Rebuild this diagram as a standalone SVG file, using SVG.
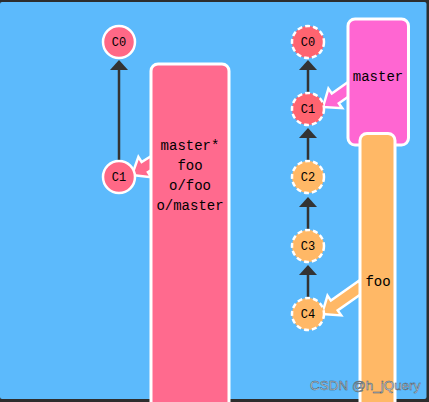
<svg xmlns="http://www.w3.org/2000/svg" width="429" height="402" viewBox="0 0 429 402">
  <defs>
    <style>
      .commit { stroke: #ffffff; stroke-width: 2.5; }
      .dashed { stroke-dasharray: 5 3; }
      .red { fill: #ff6886; }
      .red2 { fill: #ff6470; }
      .orange { fill: #ffb866; }
      .clabel { font-family: "Liberation Mono", "Courier New", monospace; font-size: 12px; fill: #000; text-anchor: middle; }
      .blabel { font-family: "Liberation Mono", "Courier New", monospace; font-size: 14px; fill: #000; text-anchor: middle; }
      .box { stroke: #ffffff; stroke-width: 3; }
      .edge { stroke: #333333; stroke-width: 2.5; fill: none; }
      .head { fill: #333333; }
      .barrow { stroke: #ffffff; stroke-width: 2.5; stroke-linejoin: miter; }
    </style>
  </defs>
  <rect x="0" y="0" width="429" height="402" fill="#2d2d2d"/>
  <rect x="0" y="2" width="426.5" height="397" rx="2" fill="#5cbafc"/>

  <g id="connectors">
    <line class="edge" x1="119" y1="160" x2="119" y2="69"/>
    <polygon class="head" points="119,60 110,70 128,70"/>
    <line class="edge" x1="308" y1="92" x2="308" y2="69"/>
    <polygon class="head" points="308,60 299,70 317,70"/>
    <line class="edge" x1="308" y1="160" x2="308" y2="137"/>
    <polygon class="head" points="308,128 299,138 317,138"/>
    <line class="edge" x1="308" y1="229" x2="308" y2="206"/>
    <polygon class="head" points="308,197 299,207 317,207"/>
    <line class="edge" x1="308" y1="297" x2="308" y2="274"/>
    <polygon class="head" points="308,265 299,275 317,275"/>
  </g>

  <g id="branch-arrows">
    <polygon class="barrow" fill="#ff6a8e" points="132,175 151.1,177.2 147.9,172.1 159,165.3 152.6,155.1 141.6,162 138.4,156.85"/>
    <polygon class="barrow" fill="#ff66d2" points="323,107 342.2,108.2 338.8,103.3 356.5,90.9 349.5,81.1 331.8,93.5 328.4,88.6"/>
    <polygon class="barrow" fill="#ffb866" points="322,314 341.2,315.4 337.7,310.4 365.4,290.9 358.6,281.1 330.9,300.6 327.5,295.6"/>
  </g>

  <g id="branch-main">
    <rect class="box" x="151" y="64" width="78" height="350" rx="7" fill="#ff6a8e"/>
    <text class="blabel" x="190" y="149.5">master*</text>
    <text class="blabel" x="190" y="169.5">foo</text>
    <text class="blabel" x="190" y="189.5">o/foo</text>
    <text class="blabel" x="190" y="209.5">o/master</text>
  </g>

  <g id="branch-master">
    <rect class="box" x="348" y="19" width="60.5" height="126" rx="7" fill="#ff66d2"/>
    <text class="blabel" x="378" y="81">master</text>
  </g>

  <g id="branch-foo">
    <rect class="box" x="360" y="133.5" width="35" height="280" rx="7" fill="#ffb866"/>
    <text class="blabel" x="378" y="286">foo</text>
  </g>

  <g id="local-C0">
    <circle class="commit red" cx="119" cy="42" r="16"/>
    <text class="clabel" x="119" y="46">C0</text>
  </g>
  <g id="local-C1">
    <circle class="commit red" cx="119" cy="177" r="16"/>
    <text class="clabel" x="119" y="181">C1</text>
  </g>

  <g id="remote-C0">
    <circle class="commit dashed red2" cx="308" cy="42" r="16"/>
    <text class="clabel" x="308" y="46">C0</text>
  </g>
  <g id="remote-C1">
    <circle class="commit dashed red2" cx="308" cy="109" r="16"/>
    <text class="clabel" x="308" y="113">C1</text>
  </g>
  <g id="remote-C2">
    <circle class="commit dashed orange" cx="308" cy="177" r="16"/>
    <text class="clabel" x="308" y="181">C2</text>
  </g>
  <g id="remote-C3">
    <circle class="commit dashed orange" cx="308" cy="246" r="16"/>
    <text class="clabel" x="308" y="250">C3</text>
  </g>
  <g id="remote-C4">
    <circle class="commit dashed orange" cx="308" cy="314" r="16"/>
    <text class="clabel" x="308" y="318">C4</text>
  </g>

  <text x="310" y="390" font-family="'Liberation Sans', Arial, sans-serif" font-size="13.5" fill="#d4dbe2" stroke="#4a5866" stroke-width="0.5">CSDN @h_jQuery</text>
</svg>
